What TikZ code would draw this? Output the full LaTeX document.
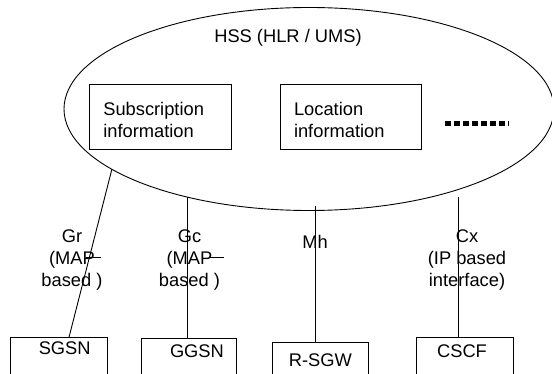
\documentclass[tikz,border=0pt]{standalone}
\usepackage{fontspec}
\setmainfont{Liberation Sans}
\usetikzlibrary{shapes.geometric}
\begin{document}
\begin{tikzpicture}[x=1pt,y=-1pt,
  every node/.style={font=\fontsize{18.3}{22.1}\selectfont},
  link/.style={draw=black, line width=0.9pt},
  infobox/.style={draw, line width=0.9pt, rectangle, anchor=north west,
    inner ysep=0pt, outer sep=0pt, align=left, minimum height=64.4pt},
  netbox/.style={draw, line width=0.9pt, rectangle, anchor=north west,
    inner sep=0pt, outer sep=0pt, text depth=60pt},
  iflabel/.style={anchor=north, inner sep=0pt, outer sep=0pt, align=center}]
\useasboundingbox (0,0) rectangle (552,374);
\clip (0,0) rectangle (552,374);
\fill[white] (0,0) rectangle (552,374);

% Home subscriber server
\node[draw, ellipse, line width=0.9pt, minimum width=490pt, minimum height=203pt,
      inner sep=0pt, outer sep=0pt] (hss) at (309,109) {};
\node[anchor=base] (hsslabel) at (288,43) {HSS (HLR / UMS)};

\node[infobox, minimum width=142pt, text width=113.4pt, inner xsep=14.3pt]
  (subinfo) at (89,84.8) {\rule{0pt}{19pt}Subscription\\information};
\node[infobox, minimum width=141pt, text width=113pt, inner xsep=14pt]
  (locinfo) at (280,84.8) {\rule{0pt}{19pt}Location\\information};
\draw[line width=4.2pt, dash pattern=on 5.6pt off 3.4pt] (445,123.5) -- (509,123.5);

% Network elements
\node[netbox, minimum width=97.2pt, text height=17.7pt] (sgsn) at (10.3,337.3) {\hspace*{11.6pt}SGSN};
\node[netbox, minimum width=95.3pt, text height=19.3pt] (ggsn) at (141,338.2) {\hspace*{16.6pt}GGSN};
\node[netbox, minimum width=96.7pt, text height=23.9pt] (rsgw) at (272,342.6) {R-SGW};
\node[netbox, minimum width=96.5pt, text height=19.7pt] (cscf) at (416.5,337.3) {CSCF\hspace*{5.5pt}};

% Interfaces
\coordinate (mhtop) at (315,206.3);
\coordinate (cxtop) at (458,197.5);
\draw[link] (hss.197.9) -- ([xshift=58.7pt]sgsn.north west);
\draw[link] (hss.216.9) -- (hss.216.9 |- ggsn.north);
\draw[link] (mhtop) -- (mhtop |- rsgw.north);
\draw[link] (cxtop) -- (cxtop |- cscf.north);

\node[iflabel] (grlabel) at (72,228.3) {\rule{0pt}{14pt}Gr\\(MAP\\based )};
\node[iflabel] (gclabel) at (189.5,228.3) {\rule{0pt}{14pt}Gc\\(MAP\\based )};
\node[anchor=base] (mhlabel) at (315,248.8) {Mh};
\node[iflabel] (cxlabel) at (467,228.3) {\rule{0pt}{14pt}Cx\\(IP based\\interface)};
\draw[link] (86,257.5) -- (101,257.5);
\draw[link] (209.5,257.5) -- (224,257.5);
\end{tikzpicture}
\end{document}
